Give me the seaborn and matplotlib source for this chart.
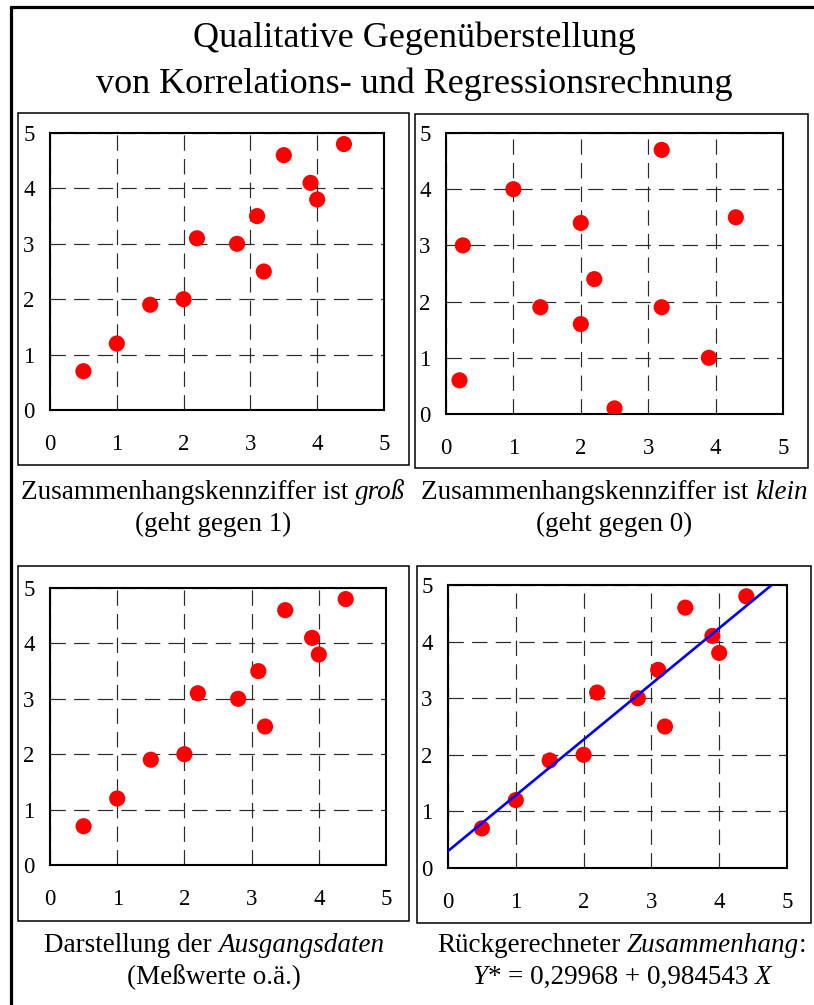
import matplotlib
matplotlib.use("Agg")
import matplotlib.pyplot as plt
from matplotlib.patches import Rectangle
from matplotlib.lines import Line2D
import numpy as np
import pandas as pd
import seaborn as sns

# ---------------- data ----------------
x_strong = [0.5, 1.0, 1.5, 2.0, 2.2, 2.8, 3.1, 3.2, 3.5, 3.9, 4.0, 4.4]
y_strong = [0.7, 1.2, 1.9, 2.0, 3.1, 3.0, 3.5, 2.5, 4.6, 4.1, 3.8, 4.8]

x_weak = [0.2, 0.25, 1.0, 1.4, 2.0, 2.0, 2.2, 2.5, 3.2, 3.2, 3.9, 4.3]
y_weak = [0.6, 3.0, 4.0, 1.9, 3.4, 1.6, 2.4, 0.1, 4.7, 1.9, 1.0, 3.5]

ticks = [0, 1, 2, 3, 4, 5]
title_lines = ["Qualitative Gegenüberstellung",
               "von Korrelations- und Regressionsrechnung"]

df_strong = pd.DataFrame({"x": x_strong, "y": y_strong})
df_weak = pd.DataFrame({"x": x_weak, "y": y_weak})

# ---------------- style ----------------
sns.set_theme(style="white", rc={
    "axes.edgecolor": "black",
    "xtick.color": "black",
    "ytick.color": "black",
    "text.color": "black",
})
plt.rcParams["font.family"] = ["Liberation Serif", "DejaVu Serif"]

W, H = 814, 1005
fig = plt.figure(figsize=(W / 100, H / 100), dpi=100)
fig.patch.set_facecolor("white")


def rect(l, r, t, b):
    return [l / W, 1 - b / H, (r - l) / W, (b - t) / H]


def box(l, r, t, b, lw=1.1):
    fig.add_artist(Rectangle((l / W, 1 - b / H), (r - l) / W, (b - t) / H,
                             transform=fig.transFigure, fill=False,
                             lw=lw, ec="black"))


def style_ax(ax):
    ax.set_xlim(0, 5)
    ax.set_ylim(0, 5)
    ax.set_xticks(ticks)
    ax.set_yticks(ticks)
    ax.set_xticklabels([str(t) for t in ticks])
    ax.set_yticklabels([str(t) for t in ticks])
    ax.set_xlabel("")
    ax.set_ylabel("")
    for s in ax.spines.values():
        s.set_visible(True)
        s.set_color("black")
        s.set_linewidth(1.5)
    ax.tick_params(axis="both", direction="out", length=5, width=1,
                   labelsize=16.5, colors="black")
    ax.tick_params(axis="y", pad=6)
    ax.tick_params(axis="x", pad=12)
    ax.set_axisbelow(True)
    ax.grid(True, color="#2a2a2a", linewidth=0.85, linestyle=(0, (13, 7)))
    ax.set_facecolor("white")


def scatter(ax, df):
    sns.scatterplot(data=df, x="x", y="y", ax=ax, color="#ff0000", s=135,
                    edgecolor="none", linewidth=0, zorder=3, legend=False)


# panel boxes
box(18, 409, 113, 465)
box(415, 808, 114, 468)
box(18, 409, 566, 921)
box(417, 811, 566, 923)

# outer frame
fig.add_artist(Line2D([11 / W, 1.0], [1 - 7 / H, 1 - 7 / H],
                      transform=fig.transFigure, color="black", lw=2.3))
fig.add_artist(Line2D([11 / W, 11 / W], [1 - 7 / H, 0.0],
                      transform=fig.transFigure, color="black", lw=2.3))

ax1 = fig.add_axes(rect(50, 384, 133, 410))
scatter(ax1, df_strong)
style_ax(ax1)

ax2 = fig.add_axes(rect(446, 783, 133, 414))
scatter(ax2, df_weak)
style_ax(ax2)

ax3 = fig.add_axes(rect(50, 386, 588, 865))
scatter(ax3, df_strong)
style_ax(ax3)

ax4 = fig.add_axes(rect(448, 787, 585, 868))
ax4.set_xlim(0, 5)
ax4.set_ylim(0, 5)
sns.regplot(data=df_strong, x="x", y="y", ax=ax4, ci=None, truncate=False,
            scatter=False, line_kws={"color": "#0000ff", "lw": 1.9, "zorder": 4})
scatter(ax4, df_strong)
style_ax(ax4)

# ---------------- texts ----------------
renderer = fig.canvas.get_renderer()


def text_width(s, size, style):
    t = fig.text(0, 0, s, fontsize=size, style=style)
    w = t.get_window_extent(renderer).width
    t.remove()
    return w


def rich(xc, baseline, segs, size):
    space = text_width("a a", size, "normal") - text_width("aa", size, "normal")
    widths = []
    for s, st in segs:
        widths.append(space if s == " " else text_width(s, size, st))
    total = sum(widths)
    x = xc - total / 2
    for (s, st), w in zip(segs, widths):
        if s != " ":
            fig.text(x / W, 1 - baseline / H, s, fontsize=size, style=st,
                     ha="left", va="baseline")
        x += w


for line, base in zip(title_lines, [47, 93]):
    fig.text(414 / W, 1 - base / H, line, fontsize=26, ha="center",
             va="baseline")

cap = 19.5
rich(213, 499, [("Zusammenhangskennziffer ist", "normal"), (" ", "normal"),
                ("groß", "italic")], cap)
rich(213, 531, [("(geht gegen 1)", "normal")], cap)
rich(614, 499, [("Zusammenhangskennziffer ist", "normal"), (" ", "normal"),
                ("klein", "italic")], cap)
rich(614, 531, [("(geht gegen 0)", "normal")], cap)

rich(214, 952, [("Darstellung der", "normal"), (" ", "normal"),
                ("Ausgangsdaten", "italic")], cap)
rich(214, 984, [("(Meßwerte o.ä.)", "normal")], cap)
rich(622, 952, [("Rückgerechneter", "normal"), (" ", "normal"),
                ("Zusammenhang", "italic"), (":", "normal")], cap)
rich(622, 984, [("Y", "italic"), ("*", "normal"), (" ", "normal"),
                ("= 0,29968 + 0,984543", "normal"), (" ", "normal"),
                ("X", "italic")], cap)

fig.savefig("out.png", dpi=100, facecolor="white")
